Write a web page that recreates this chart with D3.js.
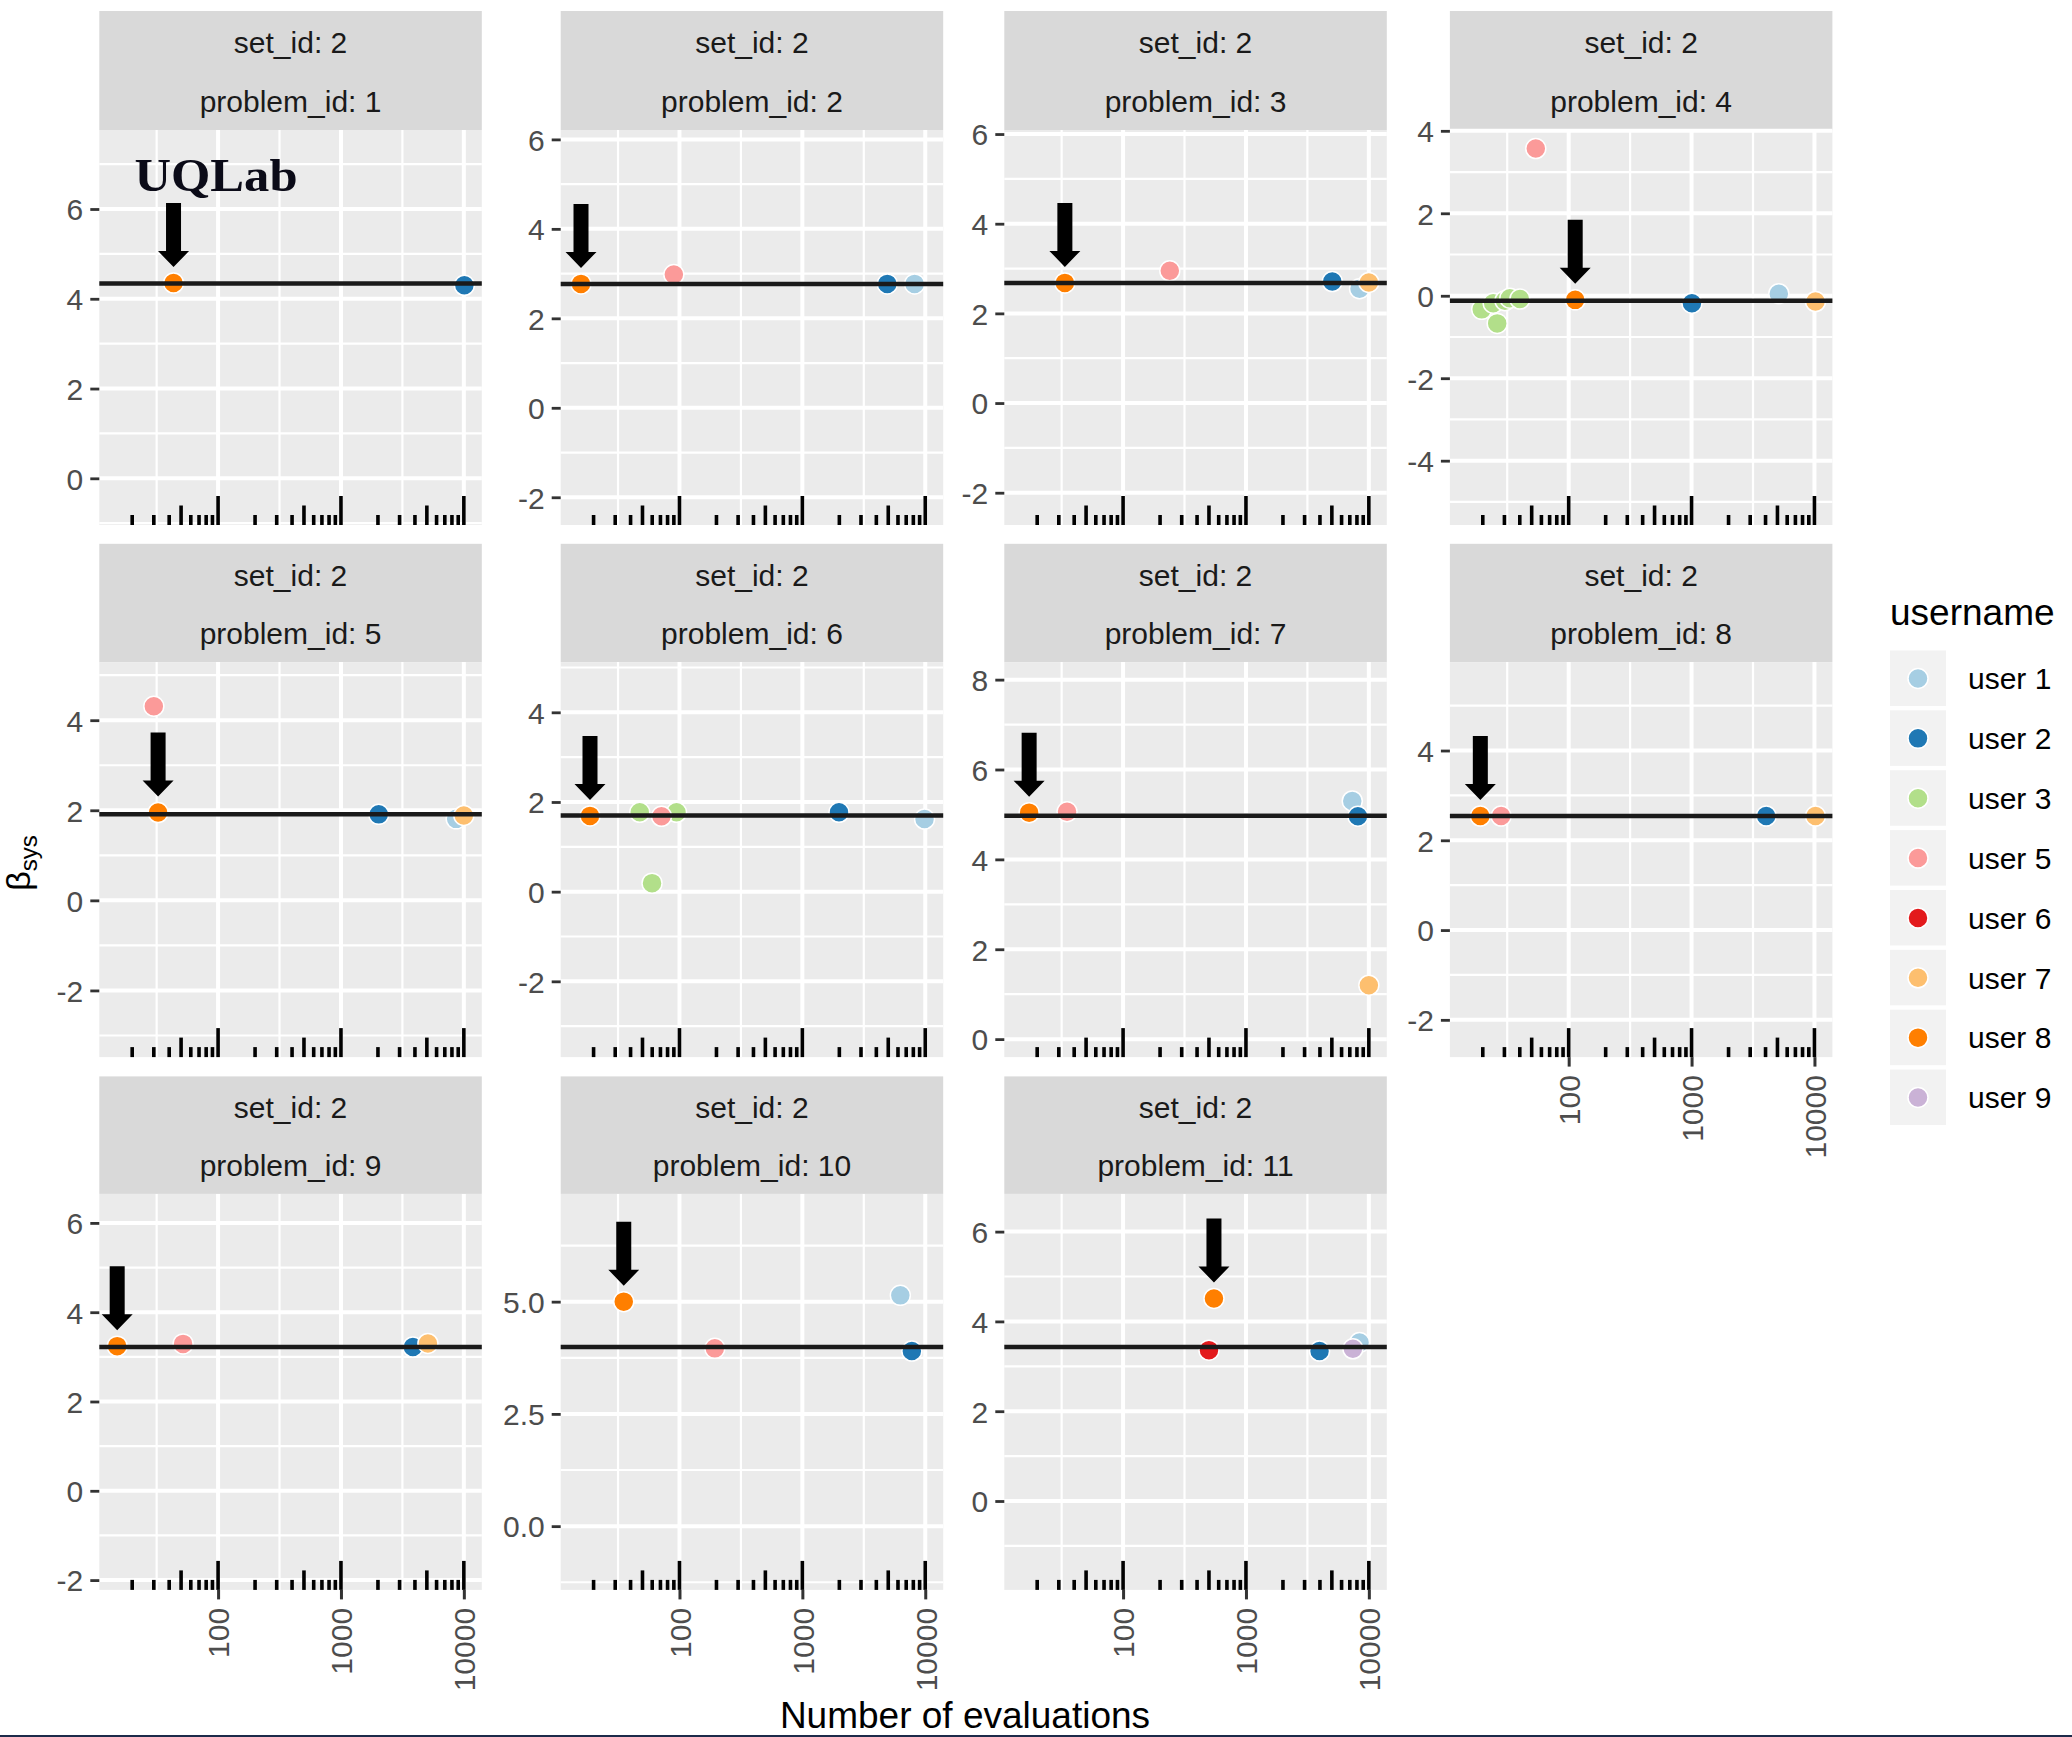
<!DOCTYPE html>
<html><head><meta charset="utf-8">
<script src="https://cdn.jsdelivr.net/npm/d3@7"></script>
<style>
html,body{margin:0;padding:0;background:#fff;}
svg{display:block;}
</style></head>
<body><svg id="chart" width="2072" height="1737"></svg>
<script>
// ---------------- DATA ----------------
const users = ["user 1","user 2","user 3","user 5","user 6","user 7","user 8","user 9"];
const userColors = ["#A6CEE3","#1F78B4","#B2DF8A","#FB9A99","#E31A1C","#FDBF6F","#FF7F00","#CAB2D6"];
const setId = 2;
const problemIds = [1,2,3,4,5,6,7,8,9,10,11];
const uqlabUser = "user 8";
// reference beta_sys (horizontal line) per problem
const refBeta = [4.34, 2.77, 2.68, -0.12, 1.91, 1.70, 4.97, 2.54, 3.22, 3.99, 3.43];
// y-axis tick labels per problem
const yTickValues = [[0,2,4,6],[-2,0,2,4,6],[-2,0,2,4,6],[-4,-2,0,2,4],[-2,0,2,4],[-2,0,2,4],
  [0,2,4,6,8],[-2,0,2,4],[-2,0,2,4,6],[0,2.5,5],[0,2,4,6]];
// y limits per problem (free y scales)
const yLimits = [[-1.04,7.76],[-2.62,6.21],[-2.72,6.09],[-5.56,4.02],[-3.48,5.29],[-3.69,5.12],
  [-0.40,8.39],[-2.83,5.97],[-2.22,6.65],[-1.42,7.40],[-1.98,6.84]];
const xTickValues = [100, 1000, 10000];
const xLimits = [10.8, 14000];
// points: [username, number of evaluations, beta_sys]
const problem1 = [["user 2",10100,4.30],["user 8",43.4,4.35]];
const problem2 = [["user 1",8190,2.77],["user 2",4910,2.77],["user 5",90,2.98],["user 8",15.8,2.77]];
const problem3 = [["user 1",8400,2.55],["user 2",5040,2.71],["user 5",240,2.95],["user 7",10000,2.69],["user 8",33.6,2.68]];
const problem4 = [["user 1",5130,0.05],["user 2",1007,-0.18],["user 3",19.6,-0.33],["user 3",24.3,-0.18],
  ["user 3",26.2,-0.67],["user 3",30.3,-0.12],["user 3",33.2,-0.06],["user 3",40.1,-0.08],
  ["user 5",54,3.57],["user 7",10200,-0.14],["user 8",113,-0.10]];
const problem5 = [["user 1",8660,1.81],["user 2",2030,1.91],["user 5",30,4.31],["user 7",10000,1.885],["user 8",32.5,1.95]];
const problem6 = [["user 1",9870,1.62],["user 2",1987,1.77],["user 3",47.5,1.77],["user 3",59.8,0.19],
  ["user 3",94.6,1.77],["user 5",71.4,1.68],["user 8",18.7,1.69]];
const problem7 = [["user 1",7330,5.30],["user 2",8150,4.96],["user 5",35,5.06],["user 7",10000,1.20],["user 8",17.2,5.04]];
const problem8 = [["user 2",4050,2.54],["user 5",28.2,2.54],["user 7",10200,2.54],["user 8",19.1,2.54]];
const problem9 = [["user 2",3850,3.22],["user 5",51.9,3.29],["user 7",5100,3.30],["user 8",15.1,3.24]];
const problem10 = [["user 1",6270,5.14],["user 2",7780,3.90],["user 5",194,3.96],["user 8",35.2,5.00]];
const problem11 = [["user 1",8400,3.53],["user 2",3970,3.34],["user 6",500,3.36],["user 8",549,4.51],["user 9",7420,3.39]];
const problemPoints = [problem1,problem2,problem3,problem4,problem5,problem6,problem7,problem8,problem9,problem10,problem11];

// ---------------- LAYOUT ----------------
const SANS = "'Liberation Sans', Arial, Helvetica, sans-serif";
const svg = d3.select("#chart").style("font-family", SANS);
const colLeft = [99.3, 560.7, 1004.3, 1449.9];
const panelW = 382.5;
const rowStripTop = [11, 543.8, 1076.4];
const rowStripH = [119, 118.3, 117.5];
const rowPanelH = [395, 395, 396];
const color = d3.scaleOrdinal().domain(users).range(userColors);
const PT_R = 10;
const fmt = d3.formatLocale({decimal: ".", thousands: "", grouping: [3], currency: ["", ""], minus: "-"});

svg.append("rect").attr("width",2072).attr("height",1737).attr("fill","#fff");

problemIds.forEach((pid, i) => {
  const col = i % 4, row = Math.floor(i / 4);
  const left = colLeft[col];
  const sTop = rowStripTop[row], sH = rowStripH[row];
  const top = sTop + sH, h = rowPanelH[row];
  const x = d3.scaleLog().domain(xLimits).range([0, panelW]);
  const y = d3.scaleLinear().domain(yLimits[i]).range([h, 0]);

  // strip
  const sg = svg.append("g").attr("transform", `translate(${left},${sTop})`);
  sg.append("rect").attr("width", panelW).attr("height", sH).attr("fill", "#d9d9d9");
  sg.append("text").attr("x", panelW/2).attr("y", sH*0.356).attr("text-anchor","middle")
    .attr("font-size", 30).attr("fill", "#1a1a1a").text(`set_id: ${setId}`);
  sg.append("text").attr("x", panelW/2).attr("y", sH*0.846).attr("text-anchor","middle")
    .attr("font-size", 30).attr("fill", "#1a1a1a").text(`problem_id: ${pid}`);

  const g = svg.append("g").attr("transform", `translate(${left},${top})`);
  g.append("rect").attr("width", panelW).attr("height", h).attr("fill", "#ebebeb");

  // minor grid
  const yt = yTickValues[i];
  const step = yt[1] - yt[0];
  const [y0, y1] = yLimits[i];
  const yMinor = [];
  for (let v = yt[0] - step/2; v <= y1; v += step) if (v >= y0) yMinor.push(v);
  const xMinor = [10**1.5, 10**2.5, 10**3.5].filter(v => v >= xLimits[0] && v <= xLimits[1]);
  g.selectAll(".ymin").data(yMinor).join("line")
    .attr("x1",0).attr("x2",panelW).attr("y1",d=>y(d)).attr("y2",d=>y(d))
    .attr("stroke","#fff").attr("stroke-width",2.2);
  g.selectAll(".xmin").data(xMinor).join("line")
    .attr("y1",0).attr("y2",h).attr("x1",d=>x(d)).attr("x2",d=>x(d))
    .attr("stroke","#fff").attr("stroke-width",2.2);
  // major grid
  g.selectAll(".ymaj").data(yt).join("line")
    .attr("x1",0).attr("x2",panelW).attr("y1",d=>y(d)).attr("y2",d=>y(d))
    .attr("stroke","#fff").attr("stroke-width",4);
  g.selectAll(".xmaj").data(xTickValues).join("line")
    .attr("y1",0).attr("y2",h).attr("x1",d=>x(d)).attr("x2",d=>x(d))
    .attr("stroke","#fff").attr("stroke-width",4);

  // log ticks (annotation_logticks, bottom)
  const logTicks = [];
  for (let k = 1; k <= 4; k++) for (let m = 1; m <= 9; m++) {
    const v = m * 10**k;
    if (v >= xLimits[0] && v <= xLimits[1]) logTicks.push({v, len: m === 1 ? 29 : (m === 5 ? 19.5 : 10)});
  }
  g.selectAll(".lt").data(logTicks).join("line")
    .attr("x1",d=>x(d.v)).attr("x2",d=>x(d.v)).attr("y1",h).attr("y2",d=>h-d.len)
    .attr("stroke","#000").attr("stroke-width",3.6);

  // points
  const pts = problemPoints[i];
  g.selectAll(".pt").data(pts).join("circle")
    .attr("cx", d => x(d[1])).attr("cy", d => y(d[2])).attr("r", PT_R)
    .attr("fill", d => color(d[0])).attr("stroke", "#fff").attr("stroke-width", 1.5);

  // reference line
  g.append("line").attr("x1",0).attr("x2",panelW).attr("y1",y(refBeta[i])).attr("y2",y(refBeta[i]))
    .attr("stroke","#1a1a1a").attr("stroke-width",4.5);

  // arrow over UQLab result
  const uq = pts.find(d => d[0] === uqlabUser);
  const px = x(uq[1]), tip = y(uq[2]) - 16, topA = tip - 64;
  g.append("path").attr("fill","#000")
    .attr("d", `M${px-7.5},${topA}L${px+7.5},${topA}L${px+7.5},${tip-16}L${px+15.5},${tip-16}L${px},${tip}L${px-15.5},${tip-16}L${px-7.5},${tip-16}Z`);
  if (i === 0) {
    g.append("text").attr("x", px - 39).attr("y", topA - 12)
      .style("font-family", "'Liberation Serif', 'DejaVu Serif', serif").attr("font-weight","bold")
      .attr("font-size", 46).attr("textLength", 163).attr("lengthAdjust","spacingAndGlyphs")
      .attr("fill", "#0b0b18").text("UQLab");
  }

  // y axis
  const ya = g.append("g").call(d3.axisLeft(y).tickValues(yt).tickSize(9).tickPadding(7)
    .tickFormat(step % 1 ? fmt.format(".1f") : fmt.format("d")));
  ya.select(".domain").remove();
  ya.selectAll(".tick line").attr("stroke","#333").attr("stroke-width",2.8);
  ya.selectAll(".tick text").attr("font-size",30).attr("fill","#4d4d4d")
    .style("font-family", SANS).attr("dy","0.36em");

  // x axis for panels without a panel below
  if (i + 4 >= problemIds.length) {
    const xa = g.append("g").attr("transform", `translate(0,${h})`)
      .call(d3.axisBottom(x).tickValues(xTickValues).tickSize(9.5).tickPadding(0).tickFormat(fmt.format("d")));
    xa.select(".domain").remove();
    xa.selectAll(".tick line").attr("stroke","#333").attr("stroke-width",3);
    xa.selectAll(".tick text").attr("font-size",30).attr("fill","#4d4d4d")
      .style("font-family", SANS)
      .attr("text-anchor","end").attr("transform","translate(0,18) rotate(-90)")
      .attr("x",0).attr("y",0).attr("dy","0.36em");
  }
});

// axis titles
svg.append("text").attr("x", 965).attr("y", 1728).attr("text-anchor","middle")
  .attr("font-size", 37).attr("fill","#000").text("Number of evaluations");
const ytl = svg.append("text").attr("transform","translate(30,863) rotate(-90)").attr("text-anchor","middle")
  .attr("fill","#000");
ytl.append("tspan").attr("font-size", 34).text("β");
ytl.append("tspan").attr("font-size", 24).attr("dy", 7).text("sys");

// legend
const lg = svg.append("g").attr("transform","translate(1890,0)");
lg.append("text").attr("x",0).attr("y",625).attr("font-size",37).attr("fill","#000").text("username");
const keyTop = 650.5, keyStep = 59.86;
const items = lg.selectAll(".key").data(users).join("g")
  .attr("transform", (d, k) => `translate(0,${keyTop + k*keyStep})`);
items.append("rect").attr("width",56).attr("height",55.5).attr("fill","#f2f2f2");
items.append("circle").attr("cx",28).attr("cy",28).attr("r",PT_R).attr("fill",d=>color(d))
  .attr("stroke","#fff").attr("stroke-width",1.5);
items.append("text").attr("x",78).attr("y",28).attr("dy","0.36em").attr("font-size",30)
  .attr("fill","#000").text(d=>d);

// bottom border line
svg.append("rect").attr("x",0).attr("y",1735).attr("width",2072).attr("height",2).attr("fill","#1c2a4a");
</script></body></html>
